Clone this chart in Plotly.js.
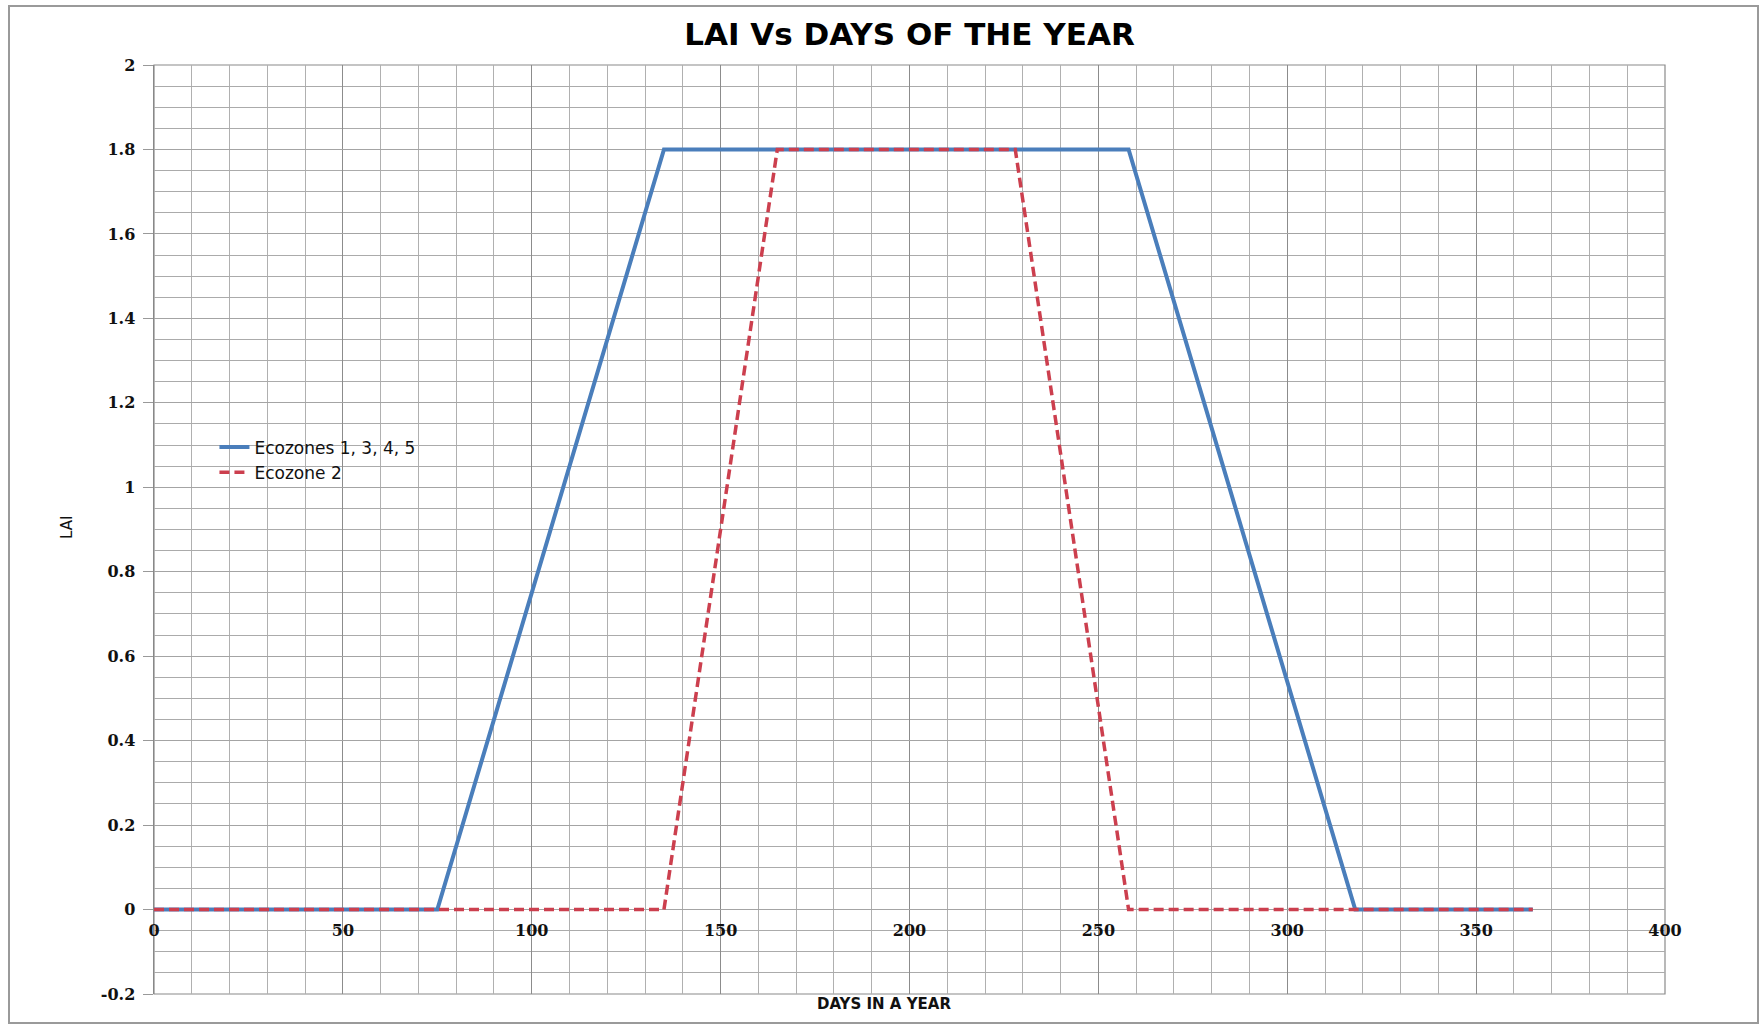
<!DOCTYPE html>
<html>
<head>
<meta charset="utf-8">
<script src="https://cdn.plot.ly/plotly-3.0.1.min.js"></script>
<style>
  html, body { margin: 0; padding: 0; background: #ffffff; }
  #chart { width: 1762px; height: 1029px; }
</style>
</head>
<body>
<div id="chart"></div>
<script>
// ---- data ----
const seriesNames = ["Ecozones 1, 3, 4, 5", "Ecozone 2"];
const daysEcozones1345 = [0, 75, 135, 258, 318, 365];
const laiEcozones1345  = [0, 0, 1.8, 1.8, 0, 0];
const daysEcozone2 = [0, 135, 165, 228, 258, 365];
const laiEcozone2  = [0, 0, 1.8, 1.8, 0, 0];
const yTickVals = [-0.2, 0, 0.2, 0.4, 0.6, 0.8, 1, 1.2, 1.4, 1.6, 1.8, 2];
const yTickText = ["-0.2", "0", "0.2", "0.4", "0.6", "0.8", "1", "1.2", "1.4", "1.6", "1.8", "2"];
const xTickVals = [0, 50, 100, 150, 200, 250, 300, 350, 400];
const titleText = "LAI Vs DAYS OF THE YEAR";
const xTitleText = "DAYS IN A YEAR";
const yTitleText = "LAI";

const yMin = -0.2, yMax = 2;

const traces = [
  {
    x: daysEcozones1345, y: laiEcozones1345, name: seriesNames[0],
    type: "scatter", mode: "lines",
    line: { color: "#4A7EBB", width: 4 }
  },
  {
    x: daysEcozone2, y: laiEcozone2, name: seriesNames[1],
    type: "scatter", mode: "lines",
    line: { color: "#CC3F4E", width: 3.5, dash: "10px,5px" }
  }
];

const tickFont = { family: "DejaVu Serif", size: 16, color: "#111111", weight: "bold" };

const layout = {
  width: 1762, height: 1029,
  margin: { l: 154, r: 97, t: 65, b: 35 },
  paper_bgcolor: "#ffffff", plot_bgcolor: "#ffffff",
  showlegend: true,
  legend: {
    x: 0.04, y: (994 - 460) / 929, xanchor: "left", yanchor: "middle",
    bgcolor: "rgba(0,0,0,0)", borderwidth: 0,
    font: { family: "DejaVu Sans", size: 17, color: "#111111" },
    tracegroupgap: 0
  },
  title: {
    text: "<b>" + titleText + "</b>",
    font: { family: "DejaVu Sans", size: 31, color: "#000000" },
    x: 0.5, xref: "paper", xanchor: "center",
    y: 1 - 34 / 1029, yref: "container", yanchor: "middle"
  },
  xaxis: {
    range: [0, 400], tickmode: "array", tickvals: xTickVals,
    anchor: "free", position: (0 - yMin) / (yMax - yMin),
    showgrid: true, gridcolor: "#8c8c8c", gridwidth: 1.2,
    minor: { dtick: 10, tick0: 0, showgrid: true, gridcolor: "#b0b0b0", gridwidth: 1 },
    zeroline: false, showline: false,
    ticks: "outside", ticklen: 6, tickcolor: "rgba(0,0,0,0)",
    tickfont: tickFont
  },
  yaxis: {
    range: [yMin, yMax], tickmode: "array", tickvals: yTickVals, ticktext: yTickText,
    showgrid: true, gridcolor: "#a4a4a4", gridwidth: 1,
    minor: { dtick: 0.05, tick0: 0, showgrid: true, gridcolor: "#ababab", gridwidth: 1 },
    zeroline: false, showline: true, linecolor: "#888888", linewidth: 1.5,
    ticks: "outside", ticklen: 10, tickcolor: "#999999",
    ticklabelstandoff: 4,
    tickfont: tickFont
  },
  shapes: [
    { type: "rect", xref: "paper", yref: "paper", x0: 0, x1: 1, y0: 0, y1: 1,
      line: { color: "#8a8a8a", width: 1.2 }, layer: "below" },
    { type: "rect", xref: "paper", yref: "paper",
      x0: (9 - 154) / 1511, x1: (1758 - 154) / 1511,
      y0: (994 - 1023) / 929, y1: (994 - 6) / 929,
      line: { color: "#9a9a9a", width: 2 }, fillcolor: "rgba(0,0,0,0)" }
  ],
  annotations: [
    { text: "<b>" + xTitleText + "</b>", xref: "paper", yref: "paper",
      x: (884 - 154) / 1511, y: (994 - 1004) / 929, xanchor: "center", yanchor: "middle",
      showarrow: false, font: { family: "DejaVu Sans", size: 15, color: "#111111" } },
    { text: yTitleText, xref: "paper", yref: "paper",
      x: (67 - 154) / 1511, y: (994 - 528) / 929, xanchor: "center", yanchor: "middle",
      textangle: -90, showarrow: false,
      font: { family: "DejaVu Sans", size: 15, color: "#111111" } }
  ]
};

Plotly.newPlot("chart", traces, layout, { displayModeBar: false, staticPlot: true });
</script>
</body>
</html>
